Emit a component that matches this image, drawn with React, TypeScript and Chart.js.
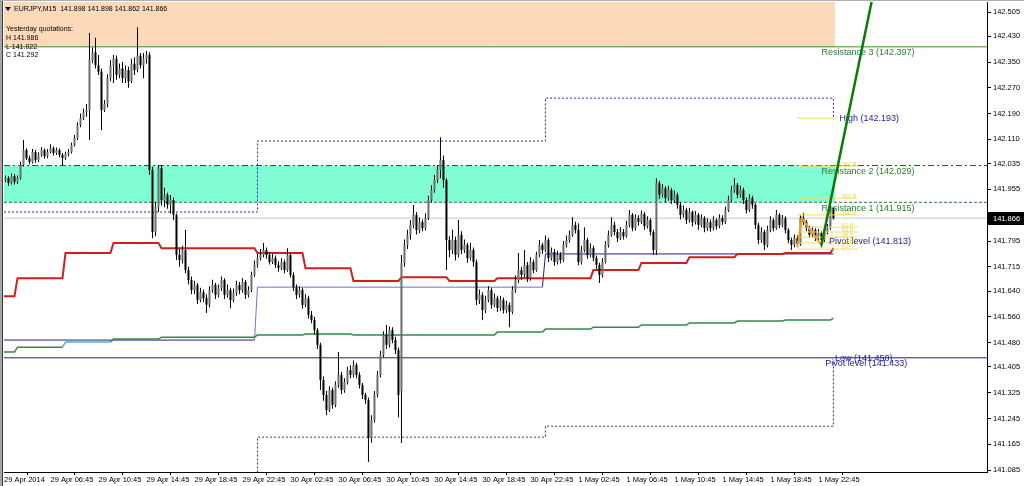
import React, { useEffect, useRef } from "react";
import { Chart, registerables } from "chart.js";

Chart.register(...registerables);

const FONT = '"Liberation Sans", Arial, sans-serif';

const symbolTitle = "EURJPY,M15";
const headerQuote = [141.898, 141.898, 141.862, 141.866];
const yesterdayTitle = "Yesterday quotations:";
const yesterdayKeys = ["H", "L", "C"];
const yesterdayValues = [141.986, 141.022, 141.292];

// M15 bars from 29 Apr 2014 03:00: [open, high, low, close]
const candles: number[][] = [
  [141.985,141.998,141.978,141.990],[141.990,141.996,141.966,141.975],[141.975,142.004,141.970,141.996],[141.996,142.002,141.970,141.978],
  [141.978,141.998,141.972,141.990],[141.990,142.040,141.986,142.031],[142.031,142.108,142.026,142.077],[142.077,142.083,142.046,142.052],
  [142.052,142.060,142.032,142.040],[142.040,142.080,142.035,142.071],[142.071,142.077,142.038,142.046],[142.046,142.070,142.040,142.062],
  [142.062,142.086,142.056,142.077],[142.077,142.082,142.050,142.058],[142.058,142.080,142.052,142.071],[142.071,142.095,142.066,142.083],
  [142.083,142.088,142.060,142.068],[142.068,142.085,142.062,142.077],[142.077,142.082,142.055,142.062],[142.062,142.068,142.030,142.052],
  [142.052,142.072,142.046,142.065],[142.065,142.080,142.058,142.071],[142.071,142.100,142.066,142.093],[142.093,142.124,142.088,142.114],
  [142.114,142.163,142.108,142.155],[142.155,142.190,142.148,142.176],[142.176,142.205,142.170,142.195],[142.195,142.220,142.180,142.201],
  [142.201,142.440,142.108,142.356],[142.356,142.395,142.346,142.380],[142.380,142.425,142.330,142.340],[142.340,142.372,142.310,142.320],
  [142.320,142.330,142.139,142.201],[142.201,142.232,142.195,142.220],[142.220,142.312,142.210,142.300],[142.300,142.356,142.290,142.340],
  [142.340,142.372,142.285,142.360],[142.360,142.370,142.295,142.310],[142.310,142.345,142.300,142.330],[142.330,142.350,142.285,142.300],
  [142.300,142.340,142.285,142.325],[142.325,142.335,142.270,142.290],[142.290,142.360,142.285,142.345],[142.345,142.365,142.310,142.325],
  [142.325,142.458,142.318,142.370],[142.370,142.378,142.330,142.340],[142.340,142.378,142.300,142.360],[142.360,142.385,142.345,142.372],
  [142.372,142.380,142.000,142.015],[142.015,142.025,141.804,141.823],[141.823,141.915,141.810,141.900],[141.900,142.031,141.885,142.021],
  [142.021,142.030,141.905,141.922],[141.922,141.960,141.900,141.938],[141.938,141.945,141.895,141.907],[141.907,141.938,141.880,141.922],
  [141.922,141.930,141.860,141.876],[141.876,141.880,141.736,141.752],[141.752,141.770,141.715,141.736],[141.736,141.780,141.725,141.767],
  [141.767,141.829,141.695,141.705],[141.705,141.715,141.660,141.674],[141.674,141.685,141.630,141.643],[141.643,141.672,141.630,141.659],
  [141.659,141.665,141.600,141.612],[141.612,141.650,141.605,141.637],[141.637,141.645,141.605,141.618],[141.618,141.630,141.572,141.597],
  [141.597,141.655,141.590,141.643],[141.643,141.675,141.635,141.659],[141.659,141.665,141.615,141.628],[141.628,141.660,141.620,141.649],
  [141.649,141.685,141.640,141.674],[141.674,141.680,141.615,141.628],[141.628,141.660,141.620,141.643],[141.643,141.650,141.587,141.612],
  [141.612,141.648,141.605,141.634],[141.634,141.672,141.625,141.659],[141.659,141.668,141.630,141.643],[141.643,141.680,141.635,141.668],
  [141.668,141.674,141.615,141.628],[141.628,141.655,141.620,141.643],[141.643,141.700,141.636,141.690],[141.690,141.735,141.684,141.721],
  [141.721,141.755,141.712,141.742],[141.742,141.770,141.735,141.752],[141.752,141.789,141.745,141.767],[141.767,141.775,141.740,141.752],
  [141.752,141.760,141.722,141.730],[141.730,141.755,141.724,141.742],[141.742,141.750,141.712,141.721],[141.721,141.732,141.700,141.711],
  [141.711,141.742,141.705,141.730],[141.730,141.738,141.695,141.705],[141.705,141.773,141.700,141.752],[141.752,141.758,141.682,141.690],
  [141.690,141.698,141.640,141.652],[141.652,141.660,141.615,141.628],[141.628,141.655,141.620,141.643],[141.643,141.650,141.585,141.597],
  [141.597,141.630,141.590,141.618],[141.618,141.625,141.555,141.566],[141.566,141.578,141.540,141.550],[141.550,141.560,141.505,141.519],
  [141.519,141.525,141.460,141.473],[141.473,141.480,141.333,141.364],[141.364,141.375,141.300,141.318],[141.318,141.330,141.256,141.271],
  [141.271,141.345,141.265,141.333],[141.333,141.340,141.275,141.287],[141.287,141.360,141.280,141.349],[141.349,141.451,141.340,141.380],
  [141.380,141.390,141.320,141.333],[141.333,141.370,141.325,141.358],[141.358,141.405,141.350,141.395],[141.395,141.410,141.370,141.380],
  [141.380,141.425,141.372,141.411],[141.411,141.418,141.370,141.380],[141.380,141.388,141.338,141.349],[141.349,141.355,141.305,141.318],
  [141.318,141.325,141.290,141.302],[141.302,141.310,141.110,141.184],[141.184,141.255,141.170,141.240],[141.240,141.330,141.232,141.318],
  [141.318,141.392,141.310,141.380],[141.380,141.455,141.372,141.442],[141.442,141.515,141.435,141.504],[141.504,141.535,141.460,141.473],
  [141.473,141.530,141.465,141.519],[141.519,141.528,141.478,141.488],[141.488,141.498,141.445,141.457],[141.457,141.465,141.249,141.318],
  [141.330,141.752,141.169,141.727],[141.727,141.800,141.715,141.783],[141.783,141.830,141.770,141.814],[141.814,141.860,141.800,141.845],
  [141.845,141.907,141.835,141.876],[141.876,141.885,141.815,141.829],[141.829,141.868,141.820,141.854],[141.854,141.862,141.825,141.835],
  [141.835,141.880,141.828,141.866],[141.866,141.935,141.860,141.922],[141.922,141.968,141.915,141.953],[141.953,142.000,141.945,141.984],
  [141.984,142.030,141.975,142.015],[142.015,142.117,141.990,142.046],[142.046,142.060,141.960,141.984],[141.984,141.990,141.705,141.798],
  [141.798,141.810,141.745,141.767],[141.767,141.830,141.755,141.798],[141.798,141.808,141.735,141.752],[141.752,141.860,141.745,141.814],
  [141.814,141.825,141.755,141.767],[141.767,141.800,141.758,141.783],[141.783,141.790,141.728,141.742],[141.742,141.790,141.735,141.767],
  [141.767,141.775,141.715,141.730],[141.730,141.738,141.597,141.612],[141.612,141.645,141.600,141.628],[141.628,141.636,141.550,141.581],
  [141.581,141.625,141.572,141.612],[141.612,141.655,141.605,141.643],[141.643,141.650,141.585,141.597],[141.597,141.632,141.590,141.618],
  [141.618,141.625,141.575,141.587],[141.587,141.625,141.578,141.612],[141.612,141.620,141.570,141.581],[141.581,141.610,141.572,141.597],
  [141.597,141.605,141.528,141.575],[141.575,141.655,141.568,141.643],[141.643,141.688,141.635,141.674],[141.674,141.758,141.665,141.705],
  [141.705,141.715,141.675,141.690],[141.690,141.767,141.682,141.721],[141.721,141.730,141.668,141.680],[141.680,141.745,141.672,141.730],
  [141.730,141.738,141.695,141.705],[141.705,141.762,141.700,141.752],[141.752,141.798,141.745,141.783],[141.783,141.790,141.755,141.767],
  [141.767,141.812,141.760,141.798],[141.798,141.805,141.730,141.742],[141.742,141.775,141.735,141.761],[141.761,141.770,141.718,141.730],
  [141.730,141.765,141.722,141.752],[141.752,141.760,141.725,141.736],[141.736,141.795,141.730,141.783],[141.783,141.812,141.775,141.798],
  [141.798,141.828,141.790,141.814],[141.814,141.869,141.808,141.845],[141.845,141.855,141.818,141.829],[141.829,141.850,141.720,141.730],
  [141.730,141.780,141.722,141.767],[141.767,141.838,141.760,141.798],[141.798,141.805,141.740,141.752],[141.752,141.788,141.745,141.773],
  [141.773,141.780,141.732,141.742],[141.742,141.750,141.708,141.721],[141.721,141.728,141.665,141.690],[141.690,141.742,141.682,141.730],
  [141.730,141.795,141.725,141.783],[141.783,141.828,141.775,141.814],[141.814,141.869,141.808,141.845],[141.845,141.855,141.812,141.823],
  [141.823,141.832,141.792,141.804],[141.804,141.838,141.798,141.823],[141.823,141.832,141.800,141.810],[141.810,141.858,141.805,141.845],
  [141.845,141.891,141.838,141.876],[141.876,141.882,141.825,141.835],[141.835,141.878,141.828,141.866],[141.866,141.875,141.842,141.854],
  [141.854,141.890,141.848,141.879],[141.879,141.885,141.830,141.841],[141.841,141.872,141.834,141.860],[141.860,141.866,141.812,141.823],
  [141.823,141.830,141.752,141.767],[141.767,141.990,141.752,141.975],[141.975,141.982,141.925,141.938],[141.938,141.972,141.930,141.959],
  [141.959,141.965,141.915,141.928],[141.928,141.966,141.920,141.953],[141.953,141.960,141.910,141.922],[141.922,141.952,141.912,141.938],
  [141.938,141.945,141.895,141.907],[141.907,141.915,141.862,141.876],[141.876,141.905,141.868,141.891],[141.891,141.898,141.848,141.860],
  [141.860,141.898,141.852,141.885],[141.885,141.890,141.840,141.854],[141.854,141.888,141.846,141.876],[141.876,141.882,141.830,141.845],
  [141.845,141.878,141.838,141.866],[141.866,141.872,141.822,141.835],[141.835,141.866,141.826,141.854],[141.854,141.862,141.824,141.835],
  [141.835,141.872,141.828,141.860],[141.860,141.866,141.830,141.841],[141.841,141.878,141.835,141.866],[141.866,141.875,141.845,141.854],
  [141.854,141.902,141.848,141.891],[141.891,141.935,141.885,141.922],[141.922,141.966,141.915,141.953],[141.953,141.990,141.945,141.969],
  [141.969,141.975,141.928,141.938],[141.938,141.966,141.930,141.953],[141.953,141.960,141.910,141.922],[141.922,141.930,141.880,141.891],
  [141.891,141.940,141.885,141.928],[141.928,141.935,141.895,141.907],[141.907,141.912,141.832,141.845],[141.845,141.852,141.785,141.798],
  [141.798,141.838,141.790,141.823],[141.823,141.830,141.767,141.783],[141.783,141.842,141.775,141.829],[141.829,141.872,141.822,141.860],
  [141.860,141.866,141.825,141.835],[141.835,141.891,141.830,141.876],[141.876,141.882,141.835,141.845],[141.845,141.876,141.838,141.866],
  [141.866,141.872,141.818,141.829],[141.829,141.835,141.788,141.798],[141.798,141.806,141.767,141.783],[141.783,141.815,141.776,141.804],
  [141.804,141.812,141.776,141.786],[141.786,141.875,141.780,141.866],[141.866,141.882,141.845,141.854],[141.854,141.860,141.825,141.835],
  [141.835,141.842,141.805,141.814],[141.814,141.840,141.806,141.829],[141.829,141.835,141.795,141.804],[141.804,141.832,141.798,141.820],
  [141.820,141.825,141.776,141.798],[141.798,141.835,141.792,141.823],[141.823,141.848,141.815,141.835],[141.835,141.905,141.830,141.897],
  [141.898,141.898,141.862,141.866],
];

const timeTickBars = [-0.5, 15, 31, 47, 63, 79, 95, 111, 127, 143, 159, 175, 191, 207, 223, 239, 255, 271];
const timeLabels = [
  "29 Apr 2014", "29 Apr 06:45", "29 Apr 10:45", "29 Apr 14:45", "29 Apr 18:45", "29 Apr 22:45",
  "30 Apr 02:45", "30 Apr 06:45", "30 Apr 10:45", "30 Apr 14:45", "30 Apr 18:45", "30 Apr 22:45",
  "1 May 02:45", "1 May 06:45", "1 May 10:45", "1 May 14:45", "1 May 18:45", "1 May 22:45",
];
const priceTicks = [
  142.505, 142.43, 142.35, 142.27, 142.19, 142.11, 142.035, 141.955, 141.875, 141.795,
  141.715, 141.64, 141.56, 141.48, 141.405, 141.325, 141.245, 141.165, 141.085,
];
const lastPrice = 141.866;

// 4-hour indicator lines (value per segment)
const segmentStarts = [0, 4, 20, 36, 52, 68, 84, 100, 116, 132, 148, 164, 180, 196, 212, 228, 244, 260, 276];
const redLine = [141.624, 141.680, 141.758, 141.789, 141.773, 141.773, 141.758, 141.711, 141.671, 141.683, 141.671, 141.680, 141.680, 141.705, 141.727, 141.745, 141.755, 141.758, 141.773];
const greenLine = [141.451, 141.466, 141.482, 141.491, 141.497, 141.497, 141.504, 141.507, 141.504, 141.504, 141.504, 141.513, 141.522, 141.528, 141.535, 141.541, 141.547, 141.550, 141.556];

// daily lines
const dayStarts = [0, 84, 180];
const dayPivot = [141.488, 141.652, 141.755];
const dayHigh = [141.885, 142.105, 142.238];
const dayLow = [141.02, 141.187, 141.221];
const dayHighEnd = 142.176;
const dayLowEnd = 141.426;

// horizontal levels
const resistance3 = 142.397;
const resistance2 = 142.029;
const resistance1 = 141.915;
const pivotLower = 141.433;

const levelNames = ["Resistance 3", "High", "Resistance 2", "Resistance 1", "Pivot level", "Low", "Pivot level"];
const levelValues = [142.397, 142.193, 142.029, 141.915, 141.813, 141.45, 141.433];

// fibonacci
const fibNames = ["261.8", "161.8", "100.0", "61.8", "50.0", "38.2", "23.6", "0.0"];
const fibValues = [142.027, 141.928, 141.876, 141.838, 141.823, 141.807, 141.789, 141.770];
const fibBars = [264, 284];
const highMarkBars = [264, 276];
const highMarkValue = 142.176;

const zigzagBars = [264, 265.5, 272];
const zigzagPrices = [141.776, 141.866, 141.782];
const trendBars = [272, 290];
const trendPrices = [141.782, 142.594];

const X_MIN = -0.5;
const X_MAX = 327.2;
const Y_MIN = 141.079;
const Y_MAX = 142.536;
const LAST_BAR = candles.length - 1;

function stepPoints(starts: number[], values: number[]) {
  const pts: { x: number; y: number }[] = [];
  for (let k = 0; k < values.length; k++) {
    const s = k === 0 ? X_MIN : starts[k];
    const e = k + 1 < starts.length ? starts[k + 1] - 1 : LAST_BAR;
    pts.push({ x: s, y: values[k] });
    if (e > s) pts.push({ x: e, y: values[k] });
  }
  return pts;
}

function rangePoints(values: number[], endValue: number) {
  const pts: { x: number; y: number }[] = [{ x: X_MIN, y: values[0] }];
  for (let k = 1; k < values.length; k++) {
    pts.push({ x: dayStarts[k], y: values[k - 1] }, { x: dayStarts[k], y: values[k] });
  }
  pts.push({ x: LAST_BAR, y: values[values.length - 1] }, { x: LAST_BAR, y: endValue });
  return pts;
}

function hLine(v: number, x0 = X_MIN, x1 = X_MAX) {
  return [{ x: x0, y: v }, { x: x1, y: v }];
}

const TREND_INDEX = 17;

const baseLine = { type: "line" as const, pointRadius: 0, borderWidth: 1, tension: 0, fill: false };

function drawTexts(chart: any) {
  const { ctx, scales } = chart;
  const x = scales.x, y = scales.y;
  ctx.save();
  ctx.font = `9px ${FONT}`;
  ctx.textBaseline = "middle";
  ctx.textAlign = "left";
  const labelBars = [272, 278, 272, 272, 274.5, 276.5, 273.3];
  const labelColors = ["#2e7d2e", "#22229a", "#2e7d2e", "#2e7d2e", "#22229a", "#22229a", "#22229a"];
  levelNames.forEach((n, i) => {
    ctx.fillStyle = labelColors[i];
    ctx.fillText(`${n} (${levelValues[i].toFixed(3)})`, x.getPixelForValue(labelBars[i]), y.getPixelForValue(levelValues[i]) + 6);
  });
  ctx.font = `6px ${FONT}`;
  ctx.fillStyle = "#e9d44a";
  ctx.textBaseline = "bottom";
  fibNames.forEach((n, i) => {
    ctx.fillText(n, x.getPixelForValue(fibBars[1]) - 16, y.getPixelForValue(fibValues[i]) + 1);
  });
  ctx.restore();
}

const mtPlugin = {
  id: "mtPlugin",
  beforeDraw(chart: any) {
    const { ctx, width, height } = chart;
    ctx.save();
    ctx.fillStyle = "#ffffff";
    ctx.fillRect(0, 0, width, height);
    ctx.restore();
  },
  beforeDatasetDraw(chart: any, args: any) {
    if (args.index === TREND_INDEX) drawTexts(chart);
  },
  afterDraw(chart: any) {
    const { ctx, scales, chartArea, width, height } = chart;
    ctx.save();
    ctx.fillStyle = "#a6a6a6";
    ctx.fillRect(0, 0, 2, height);
    ctx.fillStyle = "#3a3a3a";
    ctx.fillRect(2, 0, 1, height);
    ctx.fillStyle = "#b0b0b0";
    ctx.fillRect(0, 0, width, 1);
    ctx.fillStyle = "#000";
    ctx.beginPath();
    ctx.moveTo(5, 7);
    ctx.lineTo(11, 7);
    ctx.lineTo(8, 11);
    ctx.closePath();
    ctx.fill();
    ctx.font = `7px ${FONT}`;
    ctx.textBaseline = "middle";
    ctx.textAlign = "left";
    ctx.fillText(`${symbolTitle}  ${headerQuote.map((v) => v.toFixed(3)).join(" ")}`, 14, 9);
    ctx.fillText(yesterdayTitle, 6, 29);
    yesterdayKeys.forEach((k, i) => {
      ctx.fillText(`${k} ${yesterdayValues[i].toFixed(3)}`, 6, 38 + i * 8.7);
    });
    const py = scales.y.getPixelForValue(lastPrice);
    ctx.fillStyle = "#000";
    ctx.fillRect(chartArea.right + 1, Math.round(py) - 6, width - chartArea.right - 1, 13);
    ctx.fillStyle = "#fff";
    ctx.font = `7.5px ${FONT}`;
    ctx.fillText(lastPrice.toFixed(3), chartArea.right + 6, Math.round(py) + 0.5);
    ctx.restore();
  },
};

export default function App() {
  const ref = useRef<HTMLCanvasElement>(null);
  useEffect(() => {
    if (!ref.current) return;
    const wick = candles.map((c, i) => ({ x: i, y: [c[2], c[1]] }));
    const body = candles.map((c, i) => ({ x: i, y: [c[0], c[3]] }));
    const bodyColors = candles.map((c) => (c[3] >= c[0] ? "#6e6e6e" : "#000000"));

    const fibData: any[] = [];
    fibValues.forEach((v) => {
      fibData.push({ x: fibBars[0], y: v }, { x: fibBars[1], y: v }, { x: fibBars[1], y: null });
    });
    fibData.push({ x: highMarkBars[0], y: highMarkValue }, { x: highMarkBars[1], y: highMarkValue });

    const navy = "#1f1f86";
    const chart = new Chart(ref.current, {
      type: "line",
      data: {
        datasets: [
          { ...baseLine, data: hLine(resistance3, X_MIN, LAST_BAR + 0.5), borderWidth: 0, fill: "end", backgroundColor: "#fcd9b8", order: 20 },
          { ...baseLine, data: hLine(resistance2, X_MIN, LAST_BAR + 0.5), borderWidth: 0, fill: "+1", backgroundColor: "#7ffcd4", order: 19 },
          { ...baseLine, data: hLine(resistance1, X_MIN, LAST_BAR + 0.5), borderWidth: 0, order: 18 },
          { ...baseLine, data: hLine(resistance3), borderColor: "#3f8f2a", order: 15 },
          { ...baseLine, data: hLine(resistance2), borderColor: "#1d5a1d", borderDash: [6, 3, 2, 3], order: 15 },
          { ...baseLine, data: hLine(resistance1), borderColor: "#2b7a2b", borderDash: [3, 2], order: 15 },
          { ...baseLine, data: hLine(pivotLower), borderColor: navy, order: 15 },
          { ...baseLine, data: hLine(lastPrice), borderColor: "#c8c8c8", order: 15 },
          { ...baseLine, data: rangePoints(dayHigh, dayHighEnd), borderColor: "#2a2aa0", borderDash: [2, 2], order: 14 },
          { ...baseLine, data: rangePoints(dayLow, dayLowEnd), borderColor: "#2a2aa0", borderDash: [2, 2], order: 14 },
          {
            ...baseLine, data: stepPoints(segmentStarts, greenLine), borderColor: "#2f8a4a", borderWidth: 1.5, order: 12,
            segment: { borderColor: (c: any) => (c.p0.parsed.x >= 19 && c.p0.parsed.x < 35 ? "#5aaec4" : "#2f8a4a") },
          },
          { ...baseLine, data: stepPoints(segmentStarts, redLine), borderColor: "#d41c1c", borderWidth: 2, order: 12 },
          {
            ...baseLine, data: stepPoints(dayStarts, dayPivot), borderColor: navy, order: 12,
            segment: { borderColor: (c: any) => (c.p0.parsed.x >= 83 && c.p0.parsed.x < 179 ? "#7474b8" : navy) },
          },
          {
            type: "bar", data: wick, backgroundColor: "#000", borderWidth: 0, grouped: false,
            barThickness: 1, maxBarThickness: 1, inflateAmount: 0, order: 6,
          },
          {
            type: "bar", data: body, backgroundColor: bodyColors, borderWidth: 0, grouped: false,
            barThickness: 2, maxBarThickness: 2, inflateAmount: 0, minBarLength: 1, order: 5,
          },
          { ...baseLine, data: fibData, borderColor: "#f2e25a", spanGaps: false, order: 3 },
          {
            ...baseLine, data: zigzagBars.map((b, i) => ({ x: b, y: zigzagPrices[i] })),
            borderColor: "#e8a035", borderWidth: 2, order: 2,
          },
          {
            ...baseLine, data: trendBars.map((b, i) => ({ x: b, y: trendPrices[i] })),
            borderColor: "#0b7a0b", borderWidth: 2.5, order: 0,
          },
        ] as any,
      },
      options: {
        responsive: false,
        animation: false,
        devicePixelRatio: 1,
        events: [],
        layout: { padding: { left: 4, top: 2, right: 0, bottom: 0 } },
        plugins: { legend: { display: false }, tooltip: { enabled: false }, title: { display: false } },
        scales: {
          x: {
            type: "linear",
            min: X_MIN,
            max: X_MAX,
            offset: false,
            grid: { display: true, drawOnChartArea: false, drawTicks: true, tickLength: 3, color: "#000" },
            border: { display: true, color: "#000", width: 1 },
            ticks: {
              autoSkip: false, maxRotation: 0, minRotation: 0, align: "start", padding: 0,
              color: "#000", font: { family: FONT, size: 7.5 },
              callback: (_v: any, i: number) => timeLabels[i] ?? "",
            },
            afterBuildTicks: (s: any) => { s.ticks = timeTickBars.map((v) => ({ value: v })); },
            afterFit: (s: any) => { s.height = 14; s.paddingLeft = 0; s.paddingRight = 0; s.paddingTop = 0; s.paddingBottom = 0; },
          },
          y: {
            type: "linear",
            position: "right",
            min: Y_MIN,
            max: Y_MAX,
            stacked: false,
            grid: { display: true, drawOnChartArea: false, drawTicks: true, tickLength: 4, color: "#000" },
            border: { display: true, color: "#000", width: 1 },
            ticks: {
              autoSkip: false, padding: 2, color: "#000", font: { family: FONT, size: 7.5 },
              callback: (v: any) => Number(v).toFixed(3),
            },
            afterBuildTicks: (s: any) => { s.ticks = priceTicks.map((v) => ({ value: v })); },
            afterFit: (s: any) => { s.width = 37; s.paddingTop = 0; s.paddingBottom = 0; s.paddingLeft = 0; s.paddingRight = 0; },
          },
        },
      } as any,
      plugins: [mtPlugin],
    });
    return () => chart.destroy();
  }, []);
  return (
    <div style={{ position: "absolute", left: 0, top: 0, width: 1024, height: 486 }}>
      <canvas ref={ref} width={1024} height={486} style={{ display: "block", width: 1024, height: 486 }} />
    </div>
  );
}
